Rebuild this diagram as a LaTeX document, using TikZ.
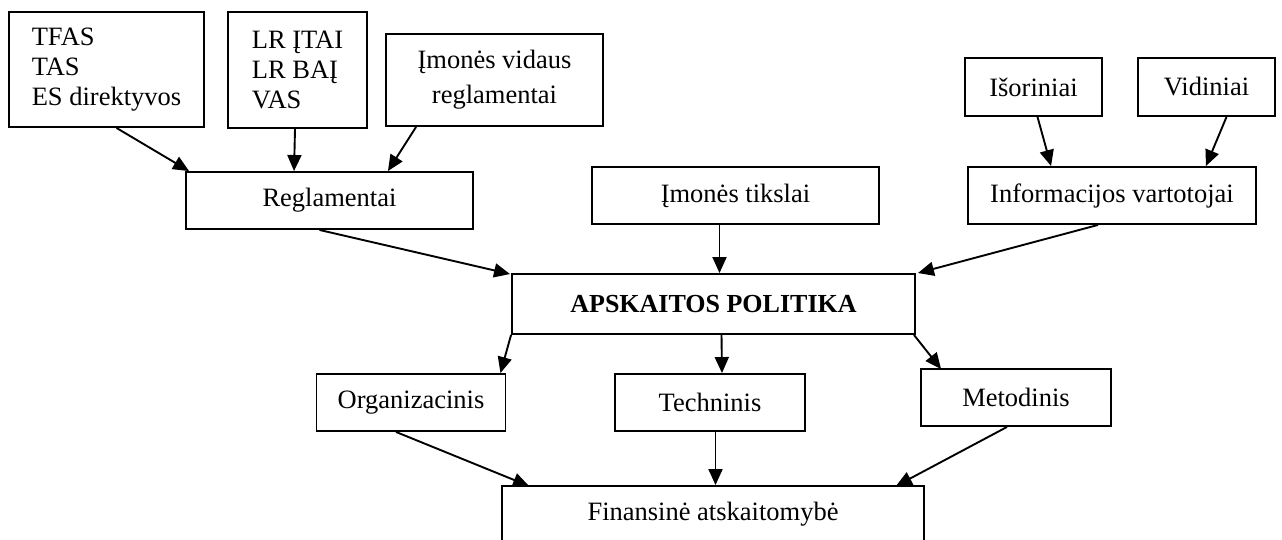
\documentclass[tikz,border=0pt]{standalone}
\usepackage{fontspec}
\setmainfont{Liberation Serif}
\usetikzlibrary{arrows.meta,calc}

\begin{document}
\begin{tikzpicture}[x=1pt, y=-1pt,
        box/.style={draw, line width=1.9pt, inner sep=0pt, align=center, font=\fontsize{26.5}{30}\selectfont},
        arr/.style={line width=1.9pt, -{Triangle[length=16pt, width=14pt]}}]
            \useasboundingbox (0,0) rectangle (1282,540);

            % Teisiniai šaltiniai
            \node[box, align=left, minimum width=195pt, minimum height=115pt] (tfas) at (106.5,69.5) {TFAS\\TAS\\ES direktyvos};
            \node[box, align=left, minimum width=139pt, minimum height=116pt] (lr) at (297.5,70) {LR ĮTAI\\LR BAĮ\\VAS};
            \node[box, minimum width=217pt, minimum height=92pt] (vidaus) at (494.5,80) {Įmonės vidaus\\[5pt]reglamentai};
            \node[box, minimum width=287pt, minimum height=57pt] (regl) at (329.5,200.5) {Reglamentai};

            % Tikslai ir vartotojai
            \node[box, minimum width=287pt, minimum height=57pt] (tiksl) at (735.5,195.5) {Įmonės tikslai};
            \node[box, minimum width=137pt, minimum height=58pt] (isor) at (1033.5,87) {Išoriniai};
            \node[box, minimum width=137pt, minimum height=58pt] (vidin) at (1206.5,87) {Vidiniai};
            \node[box, minimum width=288pt, minimum height=57pt] (info) at (1112,195.5) {Informacijos vartotojai};

            % Centras
            \node[box, minimum width=403pt, minimum height=60pt, font=\fontsize{26}{30}\selectfont\bfseries] (ap) at (713.5,304) {APSKAITOS POLITIKA};

            % Aspektai
            \node[box, minimum width=189pt, minimum height=57pt] (org) at (411,402.5) {Organizacinis};
            \node[box, minimum width=190pt, minimum height=57pt] (tech) at (710,402.5) {Techninis};
            \node[box, minimum width=190pt, minimum height=57pt] (met) at (1016,397.5) {Metodinis};

            % Rezultatas (apačia nukirsta)
            \node[box, minimum width=422pt, minimum height=57pt] (fin) at (713,514.5) {Finansinė atskaitomybė};

            % Rodyklės į reglamentus
            \draw[arr] ($(tfas.south)+(10,0)$) -- ($(regl.north west)+(4,0)$);
            \draw[arr] ($(lr.south)+(-2.5,0)$) -- ($(regl.north west)+(109,0)$);
            \draw[arr] ($(vidaus.south west)+(31,0)$) -- ($(regl.north east)+(-86,0)$);

            % Rodyklės į vartotojus
            \draw[arr] ($(isor.south)+(4,0)$) -- ($(info.north west)+(84,0)$);
            \draw[arr] ($(vidin.south)+(20,0)$) -- ($(info.north east)+(-51,0)$);

            % Rodyklės į apskaitos politiką
            \draw[arr] ($(regl.south)+(-10,0)$) -- ($(ap.north west)+(-1,1)$);
            \draw[arr] ($(tiksl.south)+(-16,0)$) -- ($(ap.north)+(6,0)$);
            \draw[arr] ($(info.south)+(-14,0)$) -- ($(ap.north east)+(2,0)$);

            % Rodyklės į aspektus
            \draw[arr] (ap.south west) -- ($(org.north east)+(-6,0)$);
            \draw[arr] ($(ap.south)+(8,0)$) -- ($(tech.north)+(12,0)$);
            \draw[arr] ($(ap.south east)+(-2,0)$) -- ($(met.north west)+(21,1)$);

            % Rodyklės į finansinę atskaitomybę
            \draw[arr] ($(org.south)+(-15,0)$) -- ($(fin.north west)+(28,1)$);
            \draw[arr] ($(tech.south)+(5.5,0)$) -- ($(fin.north)+(2.5,0)$);
            \draw[arr] ($(met.south)+(-9,0)$) -- ($(fin.north east)+(-29,1)$);
        \end{tikzpicture}
\end{document}
